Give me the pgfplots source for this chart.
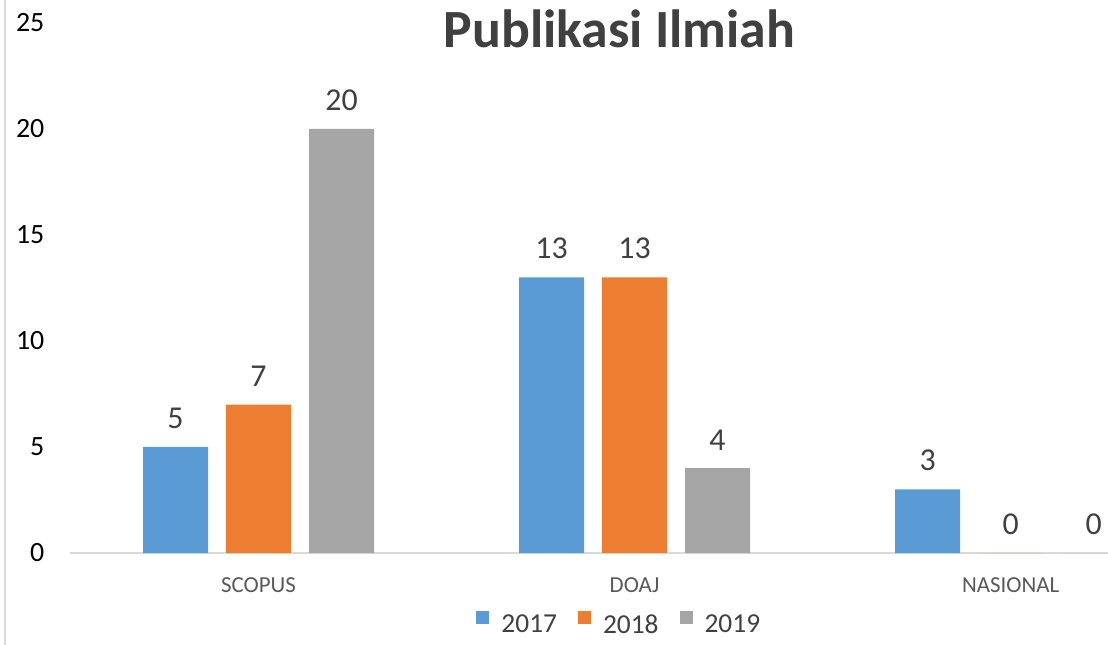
\documentclass[border=0pt]{standalone}
\usepackage{fontspec}
\setmainfont{Carlito}
\usepackage{pgfplots}
\pgfplotsset{compat=1.18}
\definecolor{cblue}{HTML}{5B9BD5}
\definecolor{corange}{HTML}{ED7D31}
\definecolor{cgray}{HTML}{A5A5A5}
\definecolor{ctext}{HTML}{404040}
\definecolor{clabel}{HTML}{595959}
\definecolor{cline}{HTML}{D9D9D9}
\begin{document}
\begin{tikzpicture}
\begin{axis}[
  at={(0,0)}, anchor=south west,
  scale only axis,
  clip mode=individual,
  width=1037.5bp, height=530bp,
  xmin=-0.5, xmax=2.259,
  ymin=0, ymax=25,
  ytick={0,5,10,15,20,25},
  xtick={0,1,2},
  xticklabels={SCOPUS,DOAJ,NASIONAL},
  major tick length=0pt,
  axis x line*=bottom, axis y line*=left,
  x axis line style={draw=cline, line width=1.2bp, -},
  y axis line style={draw=none},
  /pgf/number format/assume math mode=true,
  yticklabel style={font=\fontsize{28}{28}\selectfont, text=black, anchor=east, inner sep=0pt, xshift=-26bp},
  xticklabel style={font=\fontsize{23}{23}\selectfont, text=clabel, anchor=base, inner sep=0pt, yshift=-39bp},
  ybar=18bp, bar width=65bp,
  nodes near coords,
  every node near coord/.append style={font=\fontsize{32}{32}\selectfont, text=ctext, inner sep=0pt, yshift=18bp},
  legend columns=-1,
  legend style={draw=none, fill=none, at={(rel axis cs:0.528,0)}, anchor=center, yshift=-70bp,
    font=\fontsize{27.5}{27.5}\selectfont, text=ctext, nodes={inner sep=0pt},
    /tikz/every odd column/.append style={column sep=12bp},
    /tikz/every even column/.append style={column sep=21bp}},
  legend image code/.code={\fill[#1] (0bp,0.5bp) rectangle (13bp,13.5bp);},
]
\addplot[fill=cblue, draw=none] coordinates {(0,5) (1,13) (2,3)};
\addplot[fill=corange, draw=none] coordinates {(0,7) (1,13) (2,0)};
\addplot[fill=cgray, draw=none] coordinates {(0,20) (1,4) (2,0)};
\legend{2017,2018,2019}
\node[anchor=base, font=\fontsize{54}{54}\selectfont\bfseries, text=ctext, yshift=505bp] at (rel axis cs:0.529,0) {Publikasi Ilmiah};
\end{axis}
\draw[cline, line width=1.5bp] (-65.5bp,-92bp) -- (-65.5bp,553bp);
\pgfresetboundingbox
\path[use as bounding box] (-70.5bp,-92bp) rectangle (1037.5bp,553bp);
\end{tikzpicture}
\end{document}
